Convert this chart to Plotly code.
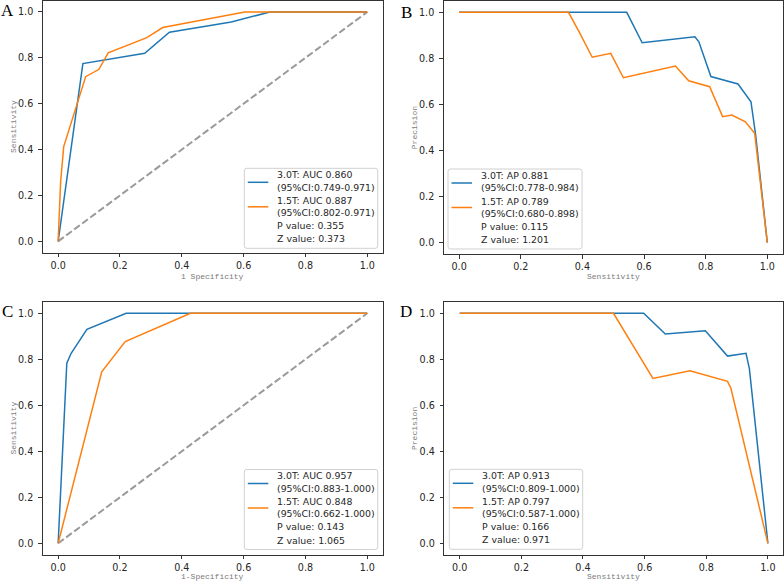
import plotly.graph_objects as go

W, H = 784, 582

# ---------------- data ----------------
# Panel A: ROC
a_fpr_30 = [0.0, 0.08, 0.28, 0.36, 0.56, 0.685, 1.0]
a_tpr_30 = [0.0, 0.775, 0.82, 0.912, 0.956, 1.0, 1.0]
a_fpr_15 = [0.0, 0.008, 0.018, 0.036, 0.089, 0.132, 0.162, 0.287, 0.338, 0.604, 1.0]
a_tpr_15 = [0.0, 0.26, 0.413, 0.488, 0.718, 0.75, 0.822, 0.888, 0.932, 1.0, 1.0]
a_labels = ["3.0T: AUC 0.860<br>(95%CI:0.749-0.971)", "1.5T: AUC 0.887<br>(95%CI:0.802-0.971)",
            "P value: 0.355", "Z value: 0.373"]

# Panel B: PR
b_rec_30 = [0.0, 0.544, 0.594, 0.765, 0.778, 0.817, 0.905, 0.947, 0.962, 1.0]
b_pre_30 = [1.0, 1.0, 0.868, 0.894, 0.872, 0.721, 0.689, 0.612, 0.47, 0.0]
b_rec_15 = [0.0, 0.355, 0.389, 0.432, 0.492, 0.533, 0.702, 0.745, 0.813, 0.855, 0.885, 0.929, 0.959, 1.0]
b_pre_15 = [1.0, 1.0, 0.916, 0.805, 0.822, 0.716, 0.767, 0.703, 0.677, 0.547, 0.554, 0.525, 0.475, 0.0]
b_labels = ["3.0T: AP 0.881<br>(95%CI:0.778-0.984)", "1.5T: AP 0.789<br>(95%CI:0.680-0.898)",
            "P value: 0.115", "Z value: 1.201"]

# Panel C: ROC
c_fpr_30 = [0.0, 0.028, 0.042, 0.093, 0.22, 1.0]
c_tpr_30 = [0.0, 0.783, 0.826, 0.93, 1.0, 1.0]
c_fpr_15 = [0.0, 0.141, 0.217, 0.428, 1.0]
c_tpr_15 = [0.0, 0.746, 0.877, 1.0, 1.0]
c_labels = ["3.0T: AUC 0.957<br>(95%CI:0.883-1.000)", "1.5T: AUC 0.848<br>(95%CI:0.662-1.000)",
            "P value: 0.143", "Z value: 1.065"]

# Panel D: PR
d_rec_30 = [0.0, 0.597, 0.667, 0.797, 0.869, 0.929, 0.94, 1.0]
d_pre_30 = [1.0, 1.0, 0.91, 0.924, 0.814, 0.826, 0.758, 0.0]
d_rec_15 = [0.0, 0.499, 0.627, 0.747, 0.869, 0.88, 1.0]
d_pre_15 = [1.0, 1.0, 0.717, 0.75, 0.704, 0.674, 0.0]
d_labels = ["3.0T: AP 0.913<br>(95%CI:0.809-1.000)", "1.5T: AP 0.797<br>(95%CI:0.587-1.000)",
            "P value: 0.166", "Z value: 0.971"]

diag = [0.0, 1.0]
tick_vals = [0.0, 0.2, 0.4, 0.6, 0.8, 1.0]
tick_text = ["0.0", "0.2", "0.4", "0.6", "0.8", "1.0"]
panel_letters = ["A", "B", "C", "D"]
x_titles = ["1 Specificity", "Sensitivity", "1-Specificity", "Sensitivity"]
y_titles = ["Sensitivity", "Precision", "Sensitivity", "Precision"]

BLUE = "#1f77b4"
ORANGE = "#ff7f0e"


def fx(p):
    return p / W


def fy(p):
    return 1 - p / H


# panel geometry in pixels: (left, top, right, bottom)
panels = [
    (42.7, 0.5, 382.7, 252.8),
    (443.7, 0.8, 782.7, 254.2),
    (42.7, 301.8, 382.7, 554.8),
    (444.3, 301.8, 783.3, 554.8),
]
legend_boxes = [  # left, top, width
    (244.3, 168.3, 133.4),
    (448.0, 169.0, 134.0),
    (244.3, 469.5, 133.4),
    (449.3, 469.3, 133.4),
]
letter_pos = [(7, 10), (406, 12), (8, 311), (406, 311)]
ytitle_x = [13.3, 414.7, 13.3, 414.7]
xtitle_y = [276.0, 276.7, 576.5, 576.5]

series = [
    ((a_fpr_30, a_tpr_30), (a_fpr_15, a_tpr_15), True, a_labels),
    ((b_rec_30, b_pre_30), (b_rec_15, b_pre_15), False, b_labels),
    ((c_fpr_30, c_tpr_30), (c_fpr_15, c_tpr_15), True, c_labels),
    ((d_rec_30, d_pre_30), (d_rec_15, d_pre_15), False, d_labels),
]

fig = go.Figure()
layout = dict(
    width=W, height=H, margin=dict(l=0, r=0, t=0, b=0, autoexpand=False),
    paper_bgcolor="white", plot_bgcolor="white", showlegend=False,
)
shapes = []
annotations = []

tick_font = dict(family="DejaVu Sans", size=9.6, color="#262626")
title_font = dict(family="Liberation Mono", size=8, color="#7a7a7a")
leg_font = dict(family="DejaVu Sans", size=9.4, color="#262626")

for i, ((x30, y30), (x15, y15), is_roc, labels) in enumerate(series):
    n = "" if i == 0 else str(i + 1)
    xa, ya = "x" + n, "y" + n
    if is_roc:
        fig.add_trace(go.Scatter(x=diag, y=diag, mode="lines", xaxis=xa, yaxis=ya,
                                 line=dict(color="#9a9a9a", width=2, dash="7px,3px")))
    fig.add_trace(go.Scatter(x=x30, y=y30, mode="lines", xaxis=xa, yaxis=ya,
                             line=dict(color=BLUE, width=1.5)))
    fig.add_trace(go.Scatter(x=x15, y=y15, mode="lines", xaxis=xa, yaxis=ya,
                             line=dict(color=ORANGE, width=1.5)))
    l, t, r, b = panels[i]
    common = dict(range=[-0.05, 1.05], showgrid=False, zeroline=False, showline=True,
                  mirror=True, linecolor="#333333", linewidth=1, ticks="outside",
                  ticklen=3.5, tickwidth=0.8, tickcolor="#333333", tickvals=tick_vals,
                  ticktext=tick_text, tickfont=tick_font, automargin=False)
    layout["xaxis" + n] = dict(domain=[fx(l), fx(r)], anchor=ya, **common)
    layout["yaxis" + n] = dict(domain=[fy(b), fy(t)], anchor=xa, ticklabelstandoff=3, **common)

    # axis titles
    cx = (l + r) / 2
    annotations.append(dict(text=x_titles[i], x=fx(cx), y=fy(xtitle_y[i]), xref="paper", yref="paper",
                            showarrow=False, font=title_font, xanchor="center", yanchor="middle"))
    annotations.append(dict(text=y_titles[i], x=fx(ytitle_x[i]), y=fy((t + b) / 2), xref="paper",
                            yref="paper", showarrow=False, font=title_font, textangle=-90,
                            xanchor="center", yanchor="middle"))
    # panel letters
    lx, ly = letter_pos[i]
    annotations.append(dict(text=panel_letters[i], x=fx(lx), y=fy(ly), xref="paper", yref="paper",
                            showarrow=False, xanchor="center", yanchor="middle",
                            font=dict(family="Liberation Serif", size=17, color="black")))

    # legend box
    bx, by, bw = legend_boxes[i]
    bh = 80.0
    rad = 2.5
    x0, x1, y0, y1 = bx, bx + bw, by, by + bh

    def P(px, py):
        return f"{fx(px):.6f},{fy(py):.6f}"

    path = (f"M {P(x0 + rad, y0)} L {P(x1 - rad, y0)} Q {P(x1, y0)} {P(x1, y0 + rad)} "
            f"L {P(x1, y1 - rad)} Q {P(x1, y1)} {P(x1 - rad, y1)} L {P(x0 + rad, y1)} "
            f"Q {P(x0, y1)} {P(x0, y1 - rad)} L {P(x0, y0 + rad)} Q {P(x0, y0)} {P(x0 + rad, y0)} Z")
    shapes.append(dict(type="path", path=path, xref="paper", yref="paper",
                       fillcolor="rgba(255,255,255,0.9)", line=dict(color="#d0d0d0", width=1),
                       layer="above"))
    # legend samples
    for yy, col in [(14.0, BLUE), (38.5, ORANGE)]:
        shapes.append(dict(type="line", xref="paper", yref="paper",
                           x0=fx(bx + 3.5), x1=fx(bx + 24), y0=fy(by + yy), y1=fy(by + yy),
                           line=dict(color=col, width=1.5), layer="above"))
    # legend texts
    rows = [6.3, 18.8, 32.3, 44.0, 57.3, 70.5]
    lines = []
    for lab in labels:
        lines.extend(lab.split("<br>"))
    for txt, ry in zip(lines, rows):
        annotations.append(dict(text=txt, x=fx(bx + 31), y=fy(by + ry), xref="paper", yref="paper",
                                showarrow=False, xanchor="left", yanchor="middle", font=leg_font))

layout["shapes"] = shapes
layout["annotations"] = annotations
fig.update_layout(**layout)
fig.write_html("out.html", config={"displayModeBar": False},
               post_script="document.body.style.margin='0';document.body.style.overflow='hidden';")
